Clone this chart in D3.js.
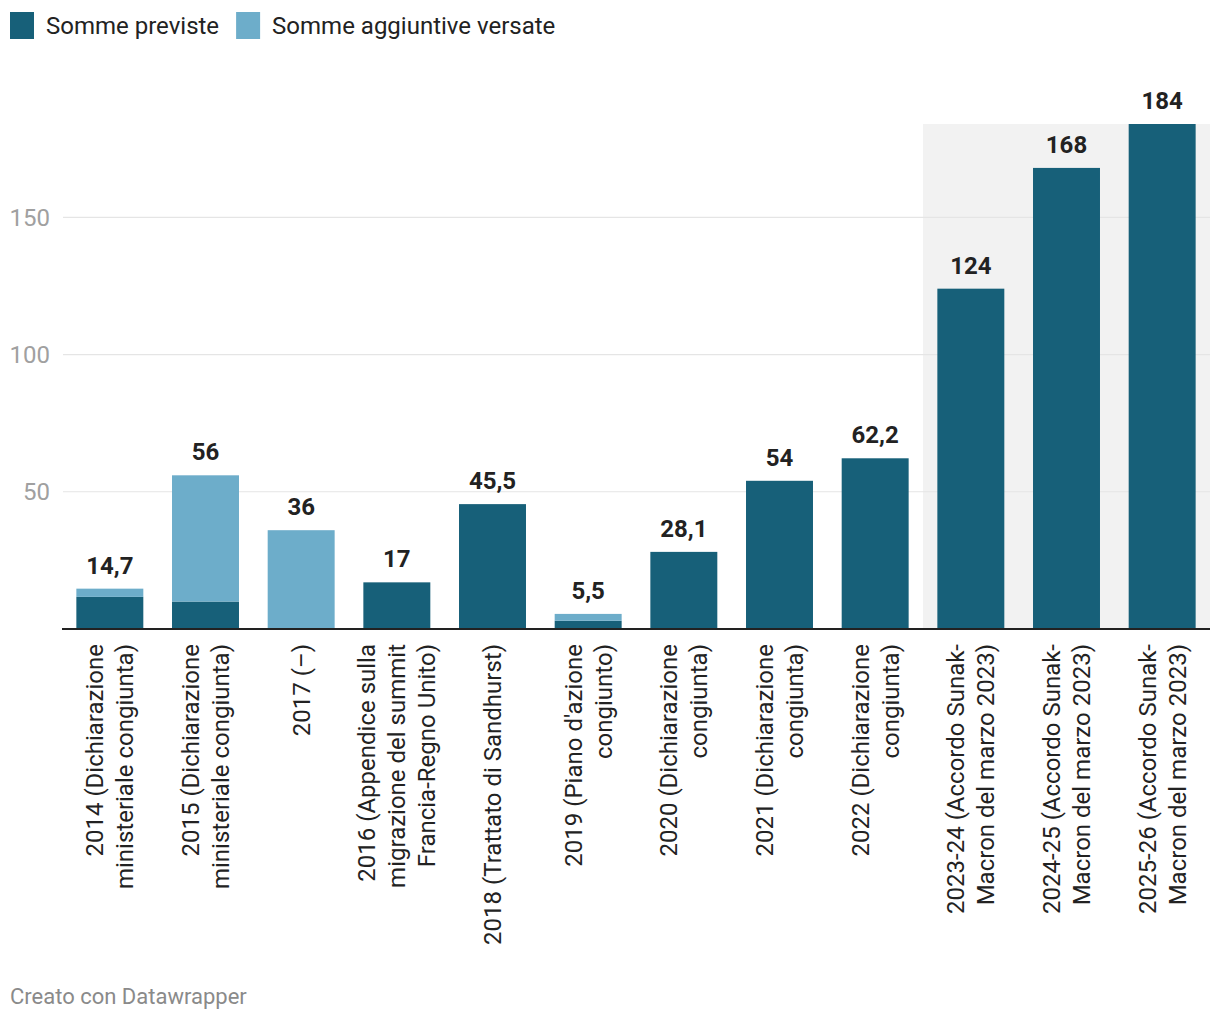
<!DOCTYPE html>
<html><head><meta charset="utf-8">
<script src="https://cdn.jsdelivr.net/npm/d3@7"></script>
<style>
body{margin:0;background:#fff;font-family:Roboto,"Noto Sans",sans-serif;}
svg{display:block;}
</style></head><body>
<svg id="c" width="1220" height="1020"></svg>
<script>
const categories = [
  ["2014 (Dichiarazione","ministeriale congiunta)"],
  ["2015 (Dichiarazione","ministeriale congiunta)"],
  ["2017 (–)"],
  ["2016 (Appendice sulla","migrazione del summit","Francia-Regno Unito)"],
  ["2018 (Trattato di Sandhurst)"],
  ["2019 (Piano d'azione","congiunto)"],
  ["2020 (Dichiarazione","congiunta)"],
  ["2021 (Dichiarazione","congiunta)"],
  ["2022 (Dichiarazione","congiunta)"],
  ["2023-24 (Accordo Sunak-","Macron del marzo 2023)"],
  ["2024-25 (Accordo Sunak-","Macron del marzo 2023)"],
  ["2025-26 (Accordo Sunak-","Macron del marzo 2023)"]
];
const sommePreviste = [11.7, 10, 0, 17, 45.5, 3, 28.1, 54, 62.2, 124, 168, 184];
const sommeAggiuntive = [3, 46, 36, 0, 0, 2.5, 0, 0, 0, 0, 0, 0];
const seriesNames = ["Somme previste", "Somme aggiuntive versate"];
const seriesColors = ["#176079", "#6dadca"];
const yTicks = [50, 100, 150];
const highlighted = [9, 10, 11];

(function(){
const svg = d3.select("#c");
const left = 62, right = 1210, base = 629, plotTop = 124;
const x = d3.scaleBand().domain(d3.range(categories.length)).range([left, right]).paddingInner(0.3).paddingOuter(0.15);
const y = d3.scaleLinear().domain([0, 184]).range([base, plotTop]);

// legend
let lx = 10;
seriesNames.forEach((n, i) => {
  svg.append("rect").attr("x", lx).attr("y", 12).attr("width", 24).attr("height", 27).attr("fill", seriesColors[i]);
  const t = svg.append("text").attr("x", lx + 36).attr("y", 34).attr("font-size", 24).attr("fill", "#222").text(n);
  lx += 36 + t.node().getComputedTextLength() + 17;
});

// highlight
const hx0 = x(highlighted[0]) - x.step() * x.paddingInner() / 2;
svg.append("rect").attr("x", hx0).attr("y", y(184)).attr("width", right - hx0).attr("height", base - y(184)).attr("fill", "#f2f2f2");

// grid
yTicks.forEach(t => {
  svg.append("line").attr("x1", left + 1).attr("x2", right).attr("y1", y(t)).attr("y2", y(t)).attr("stroke", "#e5e5e5").attr("stroke-width", 1.2);
  svg.append("text").attr("x", 50).attr("y", y(t)).attr("dy", "0.35em").attr("text-anchor", "end").attr("font-size", 24).attr("fill", "#a0a0a0").text(t);
});

// bars
const stack = categories.map((c, i) => ({i, a: sommePreviste[i], b: sommeAggiuntive[i]}));
const g = svg.append("g");
stack.forEach(d => {
  if (d.a > 0) g.append("rect").attr("x", x(d.i)).attr("width", x.bandwidth()).attr("y", y(d.a)).attr("height", y(0) - y(d.a)).attr("fill", seriesColors[0]);
  if (d.b > 0) g.append("rect").attr("x", x(d.i)).attr("width", x.bandwidth()).attr("y", y(d.a + d.b)).attr("height", y(d.a) - y(d.a + d.b)).attr("fill", seriesColors[1]);
  const tot = Math.round((d.a + d.b) * 10) / 10;
  g.append("text").attr("x", x(d.i) + x.bandwidth() / 2).attr("y", y(d.a + d.b) - 15)
    .attr("text-anchor", "middle").attr("font-size", 24).attr("font-weight", 700).attr("fill", "#222")
    .text(String(tot).replace(".", ","));
});

// baseline
svg.append("line").attr("x1", left).attr("x2", right).attr("y1", base).attr("y2", base).attr("stroke", "#222").attr("stroke-width", 2);

// category labels
categories.forEach((lines, i) => {
  const cx = x(i) + x.bandwidth() / 2;
  const t = svg.append("text").attr("transform", `translate(${cx},${base + 15}) rotate(-90)`)
    .attr("text-anchor", "end").attr("font-size", 24).attr("fill", "#222");
  lines.forEach((l, j) => {
    t.append("tspan").attr("x", 0).attr("y", (j - (lines.length - 1) / 2) * 30).attr("dy", "0.35em").text(l);
  });
});

// footer
svg.append("text").attr("x", 10).attr("y", 1004).attr("font-size", 22).attr("fill", "#8a8a8a").text("Creato con Datawrapper");
})();
</script>
</body></html>
